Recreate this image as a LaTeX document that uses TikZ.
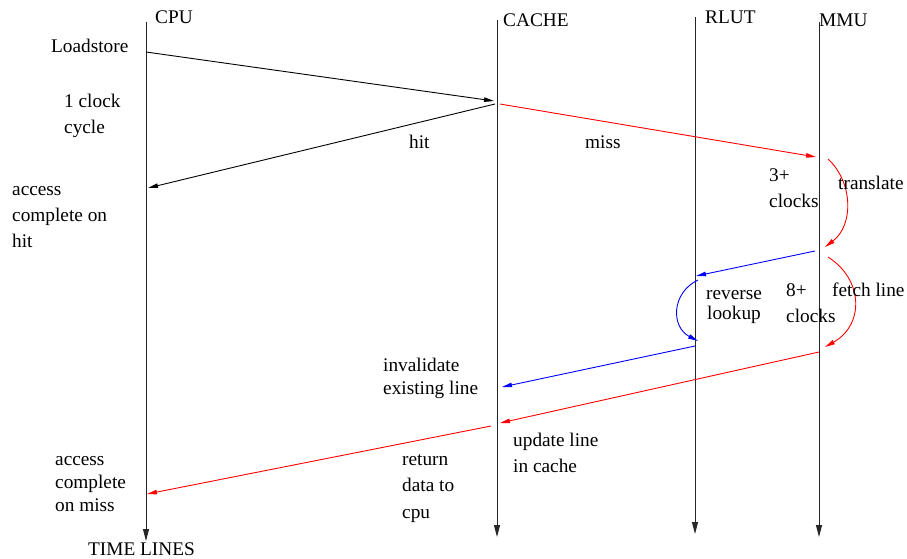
\documentclass[tikz,border=0pt]{standalone}
\usepackage{fontspec}
\setmainfont{Liberation Serif}
\usetikzlibrary{arrows.meta}
\begin{document}
\begin{tikzpicture}[x=1pt,y=-1pt,
  lbl/.style={font=\fontsize{19.3}{26}\selectfont, inner sep=0pt, anchor=base west, align=left},
  lblc/.style={font=\fontsize{19.3}{20}\selectfont, inner sep=0pt, anchor=base, align=center},
  tline/.style={line width=1pt, draw=black!85, -{Triangle[length=12pt,width=6pt]}},
  msg/.style={line width=0.9pt, -{Triangle[length=10pt,width=4.5pt]}},
]
\useasboundingbox (0,0) rectangle (907,559);

% lifeline heads
\node[lbl] (cpu)   at (155,24) {CPU};
\node[lbl] (cache) at (503,27) {CACHE};
\node[lbl] (rlut)  at (705,24) {RLUT};
\node[lbl] (mmu)   at (819,27) {MMU};
\node[lbl] (tl)    at (88,555) {TIME LINES};

% lifelines
\coordinate (cpuT) at (146,22);   \coordinate (cpuB) at (146,541);
\coordinate (cacheT) at (497,20); \coordinate (cacheB) at (497,537);
\coordinate (rlutT) at (695,17);  \coordinate (rlutB) at (695,534);
\coordinate (mmuT) at (819,22);   \coordinate (mmuB) at (819,537);
\draw[tline] (cpuT) -- (cpuB);
\draw[tline] (cacheT) -- (cacheB);
\draw[tline] (rlutT) -- (rlutB);
\draw[tline] (mmuT) -- (mmuB);

% message end points
\coordinate (a1) at (146,52);  \coordinate (a2) at (494,101);
\coordinate (b1) at (495,104); \coordinate (b2) at (148,188);
\coordinate (c1) at (500,104); \coordinate (c2) at (816,157);
\coordinate (d1) at (828,159); \coordinate (d2) at (825,247);
\coordinate (e1) at (815,251); \coordinate (e2) at (696,276);
\coordinate (f1) at (698,280); \coordinate (f2) at (698,341);
\coordinate (g1) at (695,346); \coordinate (g2) at (502,387);
\coordinate (h1) at (828,257); \coordinate (h2) at (825,347);
\coordinate (i1) at (819,352); \coordinate (i2) at (500,423);
\coordinate (j1) at (491,426); \coordinate (j2) at (147,494);

\draw[msg] (a1) -- (a2);
\draw[msg] (b1) -- (b2);
\draw[msg, red] (c1) -- (c2);
\draw[msg, red] (d1) .. controls (853,182) and (854,225) .. (d2);
\draw[msg, blue] (e1) -- (e2);
\draw[msg, blue] (f1) .. controls (671,293) and (671,327) .. (f2);
\draw[msg, blue] (g1) -- (g2);
\draw[msg, red] (h1) .. controls (864,280) and (864,325) .. (h2);
\draw[msg, red] (i1) -- (i2);
\draw[msg, red] (j1) -- (j2);

% labels
\node[lbl] (ls)   at (51,53)   {Loadstore};
\node[lbl] (clk)  at (64,134)  {1 clock\\cycle};
\node[lbl] (hit)  at (409,148) {hit};
\node[lbl] (ach)  at (12,247)  {access\\complete on\\hit};
\node[lbl] (miss) at (585,148) {miss};
\node[lbl] (c3)   at (769,207) {3+\\clocks};
\node[lbl] (tr)   at (838,189) {translate};
\node[lblc] (rl)  at (734,319) {reverse\\lookup};
\node[lbl] (c8)   at (786,322) {8+\\clocks};
\node[lbl] (fl)   at (832,296) {fetch line};
\node[lbl, font=\fontsize{19.3}{23}\selectfont] (inv) at (383,394) {invalidate\\existing line};
\node[lbl] (upd)  at (513,472) {update line\\in cache};
\node[lbl, font=\fontsize{19.3}{26.5}\selectfont] (ret) at (402,518) {return\\data to\\cpu};
\node[lbl, font=\fontsize{19.3}{23}\selectfont] (acm) at (55,511) {access\\complete\\on miss};
\end{tikzpicture}
\end{document}
